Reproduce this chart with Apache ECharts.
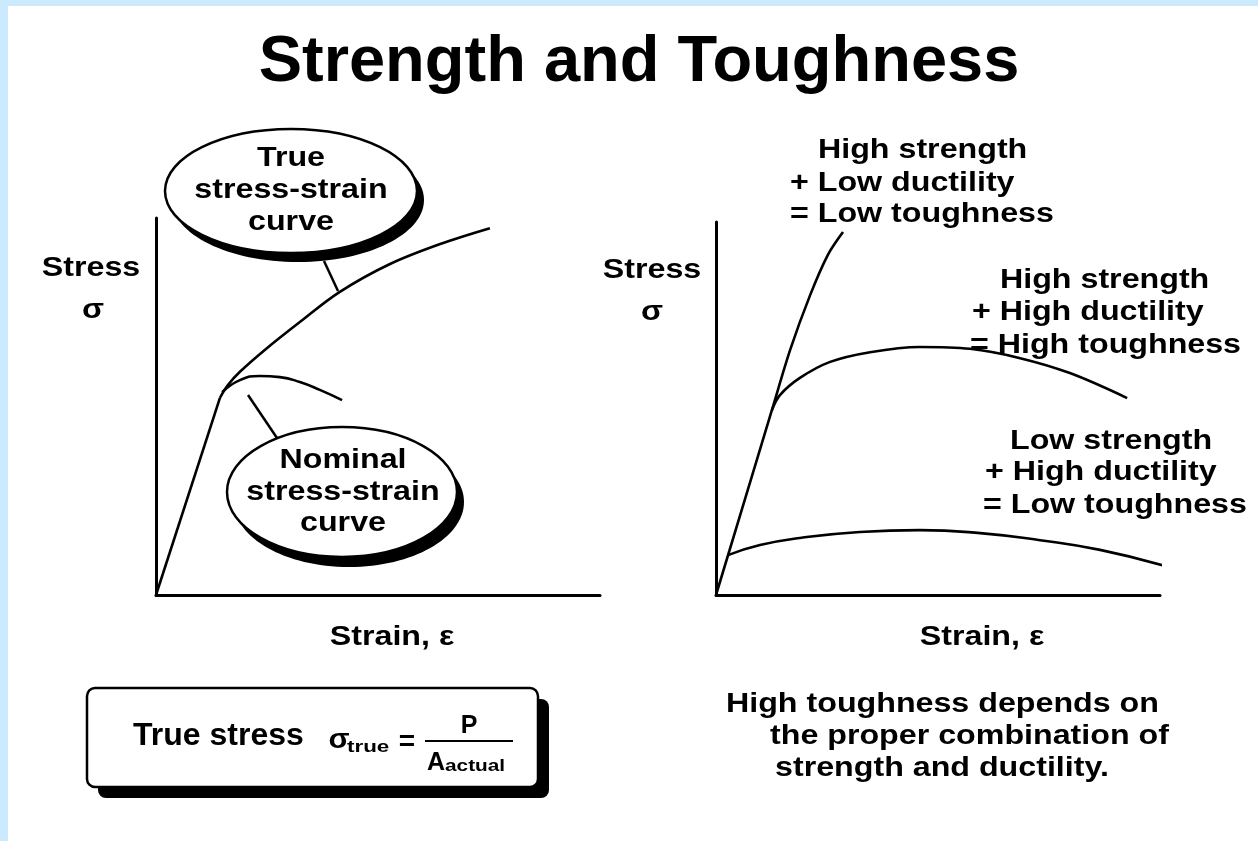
<!DOCTYPE html>
<html>
<head>
<meta charset="utf-8">
<script src="https://cdn.jsdelivr.net/npm/echarts@6/dist/echarts.min.js"></script>
<style>
html,body{margin:0;padding:0;background:#cbeafd;}
#chart{width:1258px;height:841px;}
</style>
</head>
<body>
<div id="chart"></div>
<script>
// ---- data (strain %, stress % of axis range) ----
const leftElastic   = [[0, 0], [14.4, 52.3]];
const trueCurve     = [[14.4, 52.3], [16.2, 55.7], [18.9, 59.2], [24.5, 65.0], [32.4, 72.4], [41.4, 80.4], [52.7, 87.8], [64.0, 93.1], [75.2, 97.3]];
const nominalCurve  = [[14.9, 53.8], [18.9, 57.0], [23.4, 58.1], [27.9, 57.8], [32.4, 56.5], [36.9, 54.4], [41.9, 51.7]];
const highStrLowDuc = [[0, 0], [12.6, 49.6], [16.7, 65.7], [21.2, 80.4], [25.2, 91.2], [28.6, 97.3]];
const highStrHighDuc = [[12.6, 49.6], [14.4, 53.6], [18.9, 58.2], [25.7, 62.5], [34.7, 65.1], [45.9, 66.5], [57.2, 66.0], [68.5, 63.5], [79.7, 59.5], [92.6, 52.8]];
const lowStrHighDuc = [[2.7, 10.7], [9.9, 13.4], [18.9, 15.3], [32.4, 16.9], [45.9, 17.4], [59.5, 16.6], [73.0, 14.7], [86.5, 12.1], [101.1, 7.8]];

const titleText = 'Strength and Toughness';
const groupLabels = [
  ['High strength', '+ Low ductility', '= Low toughness'],
  ['High strength', '+ High ductility', '= High toughness'],
  ['Low strength', '+ High ductility', '= Low toughness']
];
const noteLines = ['High toughness depends on', 'the proper combination of', 'strength and ductility.'];

const FONT = '"Liberation Sans", Arial, Helvetica, sans-serif';
function txt(text, x, y, size, align, sx) {
  return {
    type: 'text', x: x, y: y, scaleX: sx === undefined ? 1.15 : sx, z: 30,
    style: {
      text: text, font: 'bold ' + size + 'px ' + FONT, fill: '#000',
      align: align || 'center', verticalAlign: 'middle',
      textAlign: align || 'center', textVerticalAlign: 'middle'
    }
  };
}

const chart = echarts.init(document.getElementById('chart'));

function axisX(gi) {
  return { type: 'value', gridIndex: gi, min: 0, max: 100,
    axisLine: { show: true, onZero: false, lineStyle: { color: '#000', width: 3 } },
    axisTick: { show: false }, axisLabel: { show: false }, splitLine: { show: false } };
}
function axisY(gi) {
  return { type: 'value', gridIndex: gi, min: 0, max: 100,
    axisLine: { show: true, onZero: false, lineStyle: { color: '#000', width: 3 } },
    axisTick: { show: false }, axisLabel: { show: false }, splitLine: { show: false } };
}
function curve(data, gi, smooth) {
  return { type: 'line', xAxisIndex: gi, yAxisIndex: gi, data: data, smooth: smooth,
    showSymbol: false, symbol: 'none', clip: false, animation: false,
    lineStyle: { color: '#000', width: 2.6 } };
}

const graphics = [
  { type: 'rect', z: -10, shape: { x: 8, y: 6, width: 1250, height: 835 }, style: { fill: '#fff' } },
  txt(titleText, 639, 63, 65, 'center', 1),
  // left axis labels
  txt('Stress', 91, 268, 28), txt('σ', 93, 310, 28),
  txt('Strain, ε', 392, 637, 28),
  // right axis labels
  txt('Stress', 652, 270, 28), txt('σ', 652, 312, 28),
  txt('Strain, ε', 982, 637, 28),
  // true ellipse
  { type: 'line', z: 9, shape: { x1: 324, y1: 261, x2: 338, y2: 291 }, style: { stroke: '#000', lineWidth: 2.5 } },
  { type: 'ellipse', z: 10, shape: { cx: 298, cy: 200, rx: 126, ry: 62 }, style: { fill: '#000' } },
  { type: 'ellipse', z: 11, shape: { cx: 291, cy: 191, rx: 126, ry: 62 }, style: { fill: '#fff', stroke: '#000', lineWidth: 2.5 } },
  txt('True', 291, 158, 28), txt('stress-strain', 291, 190, 28), txt('curve', 291, 222, 28),
  // nominal ellipse
  { type: 'line', z: 9, shape: { x1: 248, y1: 395, x2: 277, y2: 438 }, style: { stroke: '#000', lineWidth: 2.5 } },
  { type: 'ellipse', z: 10, shape: { cx: 349, cy: 502, rx: 115, ry: 65 }, style: { fill: '#000' } },
  { type: 'ellipse', z: 11, shape: { cx: 342, cy: 492, rx: 115, ry: 65 }, style: { fill: '#fff', stroke: '#000', lineWidth: 2.5 } },
  txt('Nominal', 343, 460, 28), txt('stress-strain', 343, 492, 28), txt('curve', 343, 523, 28),
  // right group labels
  txt(groupLabels[0][0], 818, 150, 28, 'left'), txt(groupLabels[0][1], 790, 183, 28, 'left'), txt(groupLabels[0][2], 790, 214, 28, 'left'),
  txt(groupLabels[1][0], 1000, 280, 28, 'left'), txt(groupLabels[1][1], 972, 312, 28, 'left'), txt(groupLabels[1][2], 970, 345, 28, 'left'),
  txt(groupLabels[2][0], 1010, 441, 28, 'left'), txt(groupLabels[2][1], 985, 472, 28, 'left'), txt(groupLabels[2][2], 983, 505, 28, 'left'),
  // note
  txt(noteLines[0], 726, 704, 28, 'left'), txt(noteLines[1], 770, 736, 28, 'left'), txt(noteLines[2], 775, 768, 28, 'left'),
  // formula box
  { type: 'rect', z: 10, shape: { x: 98, y: 699, width: 451, height: 99, r: 8 }, style: { fill: '#000' } },
  { type: 'rect', z: 11, shape: { x: 87, y: 688, width: 451, height: 99, r: 8 }, style: { fill: '#fff', stroke: '#000', lineWidth: 2.5 } },
  txt('True stress', 133, 736, 32, 'left', 1),
  txt('σ', 339, 740, 28, 'center', 1.1),
  txt('true', 347, 748, 16, 'left', 1.4),
  txt('=', 407, 742, 28, 'center', 1),
  { type: 'line', z: 30, shape: { x1: 425, y1: 741, x2: 513, y2: 741 }, style: { stroke: '#000', lineWidth: 2 } },
  txt('P', 469, 726, 25, 'center', 1),
  txt('A', 436, 763, 25, 'center', 1),
  txt('actual', 445, 767, 16, 'left', 1.3)
];

chart.setOption({
  backgroundColor: '#cbeafd',
  animation: false,
  grid: [
    { left: 156, top: 218, width: 444, height: 377 },
    { left: 716, top: 222, width: 444, height: 373 }
  ],
  xAxis: [axisX(0), axisX(1)],
  yAxis: [axisY(0), axisY(1)],
  series: [
    curve(leftElastic, 0, false),
    curve(trueCurve, 0, 0.35),
    curve(nominalCurve, 0, 0.5),
    curve(highStrLowDuc, 1, 0.3),
    curve(highStrHighDuc, 1, 0.35),
    curve(lowStrHighDuc, 1, 0.5)
  ],
  graphic: graphics
});
</script>
</body>
</html>
